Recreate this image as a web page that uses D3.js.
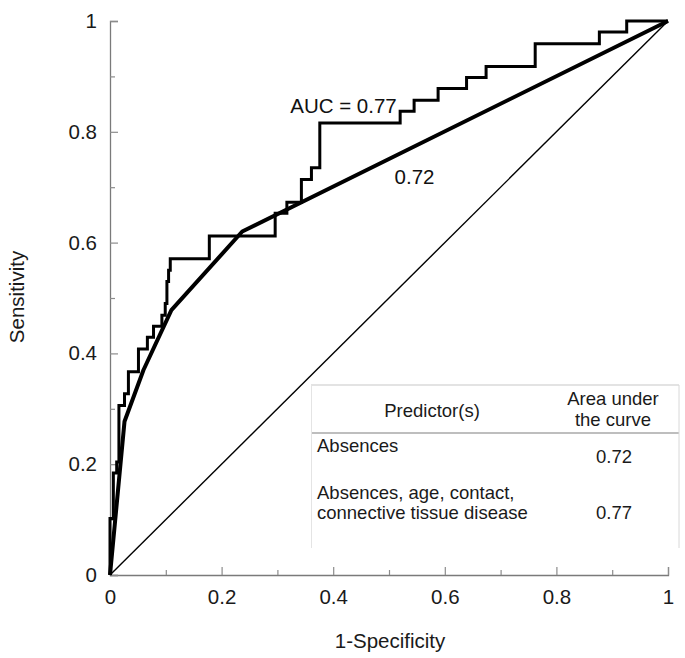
<!DOCTYPE html>
<html>
<head>
<meta charset="utf-8">
<script src="https://cdn.jsdelivr.net/npm/d3@7"></script>
<style>
  body { margin: 0; background: #fff; }
  svg { font-family: "Liberation Sans", Arial, sans-serif; }
</style>
</head>
<body>
<script>
  var w = 685, h = 658;

  // step ROC curve (absences, age, contact, connective tissue disease), corner points
  var rocFpr  = [0, 0.006, 0.012, 0.016, 0.026, 0.033, 0.051, 0.067, 0.078, 0.093, 0.099, 0.102, 0.105, 0.108,
                 0.178, 0.296, 0.317, 0.343, 0.361, 0.376, 0.52, 0.545, 0.588, 0.639, 0.674, 0.762, 0.877, 0.926, 1];
  var rocSens = [0, 0.102, 0.184, 0.204, 0.306, 0.327, 0.367, 0.408, 0.429, 0.449, 0.469, 0.49, 0.53, 0.55,
                 0.571, 0.612, 0.653, 0.673, 0.714, 0.735, 0.816, 0.837, 0.857, 0.878, 0.898, 0.918, 0.959, 0.98, 1];

  // absences only curve
  var absFpr  = [0, 0.026, 0.06, 0.11, 0.237, 1];
  var absSens = [0, 0.277, 0.37, 0.478, 0.62, 1];

  var ticks = [0, 0.1, 0.2, 0.3, 0.4, 0.5, 0.6, 0.7, 0.8, 0.9, 1];
  var tickLabels = {0: "0", 0.2: "0.2", 0.4: "0.4", 0.6: "0.6", 0.8: "0.8", 1: "1"};

  var tableHead = ["Predictor(s)", "Area under", "the curve"];
  var tableRows = [
    { name: ["Absences"], auc: "0.72" },
    { name: ["Absences, age, contact,", "connective tissue disease"], auc: "0.77" }
  ];

  var svg = d3.select('body').append('svg')
    .attr('width', w)
    .attr('height', h);

  var x = d3.scaleLinear().domain([0, 1]).range([110, 668]);
  var y = d3.scaleLinear().domain([0, 1]).range([575, 21]);

  var fmt = function(d){ var k = Math.round(d * 10) / 10; return tickLabels[k] || ""; };
  var isMinor = function(d){ return tickLabels[Math.round(d * 10) / 10] === undefined; };

  /* AXES */
  var xAxis = svg.append('g')
    .attr('transform', 'translate(0,575)')
    .call(d3.axisBottom(x).tickValues(ticks).tickFormat(fmt).tickSize(-8).tickPadding(14));
  var yAxis = svg.append('g')
    .attr('transform', 'translate(110,0)')
    .call(d3.axisLeft(y).tickValues(ticks).tickFormat(fmt).tickSize(-8).tickPadding(13));

  // shorter minor ticks
  xAxis.selectAll('.tick').filter(isMinor).select('line').attr('y2', -5);
  yAxis.selectAll('.tick').filter(isMinor).select('line').attr('x2', 5);

  [xAxis, yAxis].forEach(function(g){
    g.select('.domain').attr('stroke', '#7a7a7a').attr('stroke-width', 1.3);
    g.selectAll('.tick line').attr('stroke', '#8c8c8c').attr('stroke-width', 1.2);
    g.selectAll('.tick text').attr('font-size', '20.5px').attr('fill', '#1a1a1a')
      .attr('font-family', '"Liberation Sans", Arial, sans-serif');
  });

  svg.append('text')
    .attr('x', 390).attr('y', 648)
    .attr('text-anchor', 'middle')
    .attr('font-size', '20.5px').attr('fill', '#1a1a1a')
    .text('1-Specificity');

  svg.append('text')
    .attr('transform', 'translate(24,297) rotate(-90)')
    .attr('text-anchor', 'middle')
    .attr('font-size', '20.5px').attr('fill', '#1a1a1a')
    .text('Sensitivity');

  /* CURVES */
  svg.append('line')
    .attr('x1', x(0)).attr('y1', y(0)).attr('x2', x(1)).attr('y2', y(1))
    .attr('stroke', '#000').attr('stroke-width', 1.4);

  var roc = d3.zip(rocFpr, rocSens);
  svg.append('path')
    .datum(roc)
    .attr('d', d3.line().x(function(d){ return x(d[0]); }).y(function(d){ return y(d[1]); }).curve(d3.curveStepBefore))
    .attr('fill', 'none').attr('stroke', '#000').attr('stroke-width', 3);

  var abs = d3.zip(absFpr, absSens);
  svg.append('path')
    .datum(abs)
    .attr('d', d3.line().x(function(d){ return x(d[0]); }).y(function(d){ return y(d[1]); }))
    .attr('fill', 'none').attr('stroke', '#000').attr('stroke-width', 4).attr('stroke-linejoin', 'round');

  svg.append('text')
    .attr('x', x(0.323)).attr('y', y(0.834))
    .attr('font-size', '20.5px').attr('fill', '#111')
    .text('AUC = 0.77');

  svg.append('text')
    .attr('x', x(0.51)).attr('y', y(0.705))
    .attr('font-size', '20.5px').attr('fill', '#111')
    .text('0.72');

  /* TABLE */
  var tb = svg.append('g');
  tb.append('rect')
    .attr('x', 311).attr('y', 385).attr('width', 368).attr('height', 163)
    .attr('fill', '#fff');
  tb.append('line').attr('x1', 311).attr('y1', 385).attr('x2', 679).attr('y2', 385)
    .attr('stroke', '#c8c8c8').attr('stroke-width', 1.2);
  tb.append('line').attr('x1', 311).attr('y1', 433).attr('x2', 679).attr('y2', 433)
    .attr('stroke', '#a8a8a8').attr('stroke-width', 1.4);
  tb.append('line').attr('x1', 311.5).attr('y1', 385).attr('x2', 311.5).attr('y2', 548)
    .attr('stroke', '#e4e4e4').attr('stroke-width', 1);
  tb.append('line').attr('x1', 679).attr('y1', 385).attr('x2', 679).attr('y2', 548)
    .attr('stroke', '#d8d8d8').attr('stroke-width', 1);

  var tfs = '18.5px';
  tb.append('text').attr('x', 432).attr('y', 417).attr('text-anchor', 'middle')
    .attr('font-size', tfs).attr('fill', '#1a1a1a').text(tableHead[0]);
  tb.append('text').attr('x', 613).attr('y', 405).attr('text-anchor', 'middle')
    .attr('font-size', tfs).attr('fill', '#1a1a1a').text(tableHead[1]);
  tb.append('text').attr('x', 613).attr('y', 426).attr('text-anchor', 'middle')
    .attr('font-size', tfs).attr('fill', '#1a1a1a').text(tableHead[2]);

  var rowName = [[452], [499, 519]];
  var rowAuc = [463, 519];
  tableRows.forEach(function(r, i){
    r.name.forEach(function(t, j){
      tb.append('text').attr('x', 317).attr('y', rowName[i][j])
        .attr('font-size', tfs).attr('fill', '#1a1a1a').text(t);
    });
    tb.append('text').attr('x', 614).attr('y', rowAuc[i]).attr('text-anchor', 'middle')
      .attr('font-size', tfs).attr('fill', '#1a1a1a').text(r.auc);
  });
</script>
</body>
</html>
